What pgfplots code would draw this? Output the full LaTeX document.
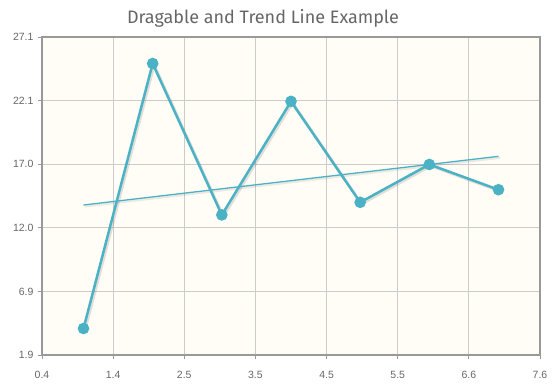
\documentclass[border=0pt]{standalone}
\usepackage{pgfplots}
\pgfplotsset{compat=1.18}
\usepackage{fontspec}
\setmainfont{Liberation Sans}
\newfontfamily\titlefont{Fira Sans}
\definecolor{linec}{HTML}{4BB2C5}
\definecolor{bgc}{HTML}{FFFDF6}
\definecolor{gridc}{HTML}{CCCCCC}
\definecolor{borderc}{HTML}{999999}
\definecolor{textc}{HTML}{666666}
\begin{document}
\begin{tikzpicture}[x=1pt,y=1pt]
\useasboundingbox (0,0) rectangle (558,389);
\node[text=textc,font=\titlefont\fontsize{18}{20}\selectfont] at (263,371) {Dragable and Trend Line Example};
\begin{axis}[
  at={(42pt,34pt)}, anchor=south west,
  scale only axis, width=498pt, height=318pt,
  xmin=0.4, xmax=7.6, ymin=1.9, ymax=27.1,
  xtick={0.4,1.428571,2.457143,3.485714,4.514286,5.542857,6.571429,7.6},
  xticklabels={0.4,1.4,2.5,3.5,4.5,5.5,6.6,7.6},
  ytick={1.9,6.94,11.98,17.02,22.06,27.1},
  yticklabels={1.9,6.9,12.0,17.0,22.1,27.1},
  grid=major, major grid style={gridc, line width=0.8pt},
  axis background/.style={fill=bgc},
  axis line style={borderc, line width=1.8pt},
  tick style={borderc, line width=0.8pt},
  tick align=outside, major tick length=4pt,
  xtick pos=bottom, ytick pos=left,
  tick label style={text=textc, font=\fontsize{10.5}{12}\selectfont},
  xticklabel style={yshift=-9pt},
  yticklabel style={xshift=-1pt},
  clip=false,
]
% shadow
\addplot[black, opacity=0.12, line width=2.8pt, xshift=1.5pt, yshift=-1.5pt, mark=none] coordinates {(1,4) (2,25) (3,13) (4,22) (5,14) (6,17) (7,15)};
\addplot[black, opacity=0.08, line width=2pt, xshift=1.5pt, yshift=-1.5pt, mark=none] coordinates {(1,13.786) (7,17.643)};
% trend line
\addplot[linec, line width=1.3pt, mark=none] coordinates {(1,13.786) (7,17.643)};
% data
\addplot[linec, line width=2.5pt, mark=*, mark size=4.5pt, mark options={solid, fill=linec, draw=none}] coordinates {(1,4) (2,25) (3,13) (4,22) (5,14) (6,17) (7,15)};
\end{axis}
\end{tikzpicture}
\end{document}
